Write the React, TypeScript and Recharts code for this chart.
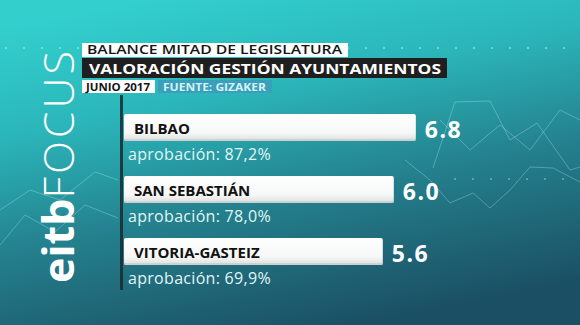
import React from "react";
import { BarChart, Bar, XAxis, YAxis } from "recharts";

const cities = ["BILBAO", "SAN SEBASTIÁN", "VITORIA-GASTEIZ"];
const scores = [6.8, 6.0, 5.6];
const approvals = [87.2, 78.0, 69.9];

const titleLine1 = "BALANCE MITAD DE LEGISLATURA";
const titleLine2 = "VALORACIÓN GESTIÓN AYUNTAMIENTOS";
const dateLabel = "JUNIO 2017";
const sourceLabel = "FUENTE: GIZAKER";

const SCALE_MIN = -3.8;
const SCALE_MAX = 12;

const data = cities.map((city, i) => ({
  city,
  score: scores[i],
  approval: approvals[i],
}));

const FONT = "'Open Sans', 'DejaVu Sans', sans-serif";

const BarShape = (props: any) => {
  const { x, y, width, height, payload } = props;
  const cy = y + height / 2;
  return (
    <g>
      <rect x={x} y={y} width={width} height={height} rx={2} fill="url(#barGrad)" />
      <rect x={x} y={y + height - 2} width={width} height={2} fill="#bfc6c6" opacity={0.6} />
      <text
        x={x + 10}
        y={cy}
        dominantBaseline="central"
        fontFamily={FONT}
        fontWeight={700}
        fontSize={15}
        fill="#111"
      >
        {payload.city}
      </text>
      <text
        x={x + width + 9}
        y={cy + 1}
        dominantBaseline="central"
        fontFamily={FONT}
        fontWeight={700}
        fontSize={23}
        letterSpacing={1.5}
        fill="#ffffff"
      >
        {payload.score.toFixed(1)}
      </text>
      <text
        x={x + 4}
        y={y + height + 13}
        dominantBaseline="central"
        fontFamily={FONT}
        fontWeight={400}
        fontSize={16}
        letterSpacing={0.3}
        fill="#e0f7f7"
      >
        {"aprobación: " + payload.approval.toFixed(1).replace(".", ",") + "%"}
      </text>
    </g>
  );
};

const deco = {
  lineA: "433,168 455,102 490,101 510,140 537,123 570,170 580,167",
  lineB: "405,160 430,180 450,203 473,193 490,208 510,190 530,167 553,168 580,182",
  lineC: "0,245 25,215 55,232 85,205 118,218",
  lineD: "440,120 470,150 500,125 530,150 560,110 580,120",
  lineE: "0,210 30,190 60,200 95,172 118,180",
};

export default function App() {
  const dotsTop = Array.from({ length: 33 }, (_, i) => 6 + i * 18);
  const dotsMid = Array.from({ length: 8 }, (_, i) => 455 + i * 18);
  return (
    <div style={{ position: "absolute", left: 0, top: 0, width: 580, height: 325, overflow: "hidden" }}>
      <svg width={580} height={325} style={{ position: "absolute", left: 0, top: 0 }}>
        <defs>
          <linearGradient id="bg" x1="0.25" y1="0" x2="0.6" y2="1">
            <stop offset="0" stopColor="#33cfcd" />
            <stop offset="0.3" stopColor="#2bb6ba" />
            <stop offset="0.62" stopColor="#24808d" />
            <stop offset="1" stopColor="#1b5064" />
          </linearGradient>
          <linearGradient id="barGrad" x1="0" y1="0" x2="0" y2="1">
            <stop offset="0" stopColor="#ffffff" />
            <stop offset="0.7" stopColor="#f6f7f7" />
            <stop offset="1" stopColor="#dcdede" />
          </linearGradient>
        </defs>
        <rect x={0} y={0} width={580} height={325} fill="url(#bg)" />
        {Object.values(deco).map((pts, i) => (
          <polyline key={i} points={pts} fill="none" stroke="#c6f5f5" strokeWidth={1} opacity={0.3} />
        ))}
        {dotsTop.map((dx) => (
          <circle key={"t" + dx} cx={dx} cy={48} r={1} fill="#9fe8e8" opacity={0.8} />
        ))}
        {dotsMid.map((dx) => (
          <circle key={"m" + dx} cx={dx} cy={179} r={0.9} fill="#9fe8e8" opacity={0.6} />
        ))}
        {/* logo */}
        <text
          transform="translate(74,283) rotate(-90)"
          fontFamily={FONT}
          fontSize={43}
          fill="#ffffff"
        >
          <tspan fontWeight={700}>eitb</tspan>
          <tspan fontWeight={300} letterSpacing={3}>FOCUS</tspan>
        </text>
        {/* titles */}
        <rect x={82} y={43} width={266} height={14} fill="#ffffff" />
        <text x={87} y={54} fontFamily={FONT} fontSize={12.5} fontWeight={600} fill="#151515" textLength={255} lengthAdjust="spacingAndGlyphs">
          {titleLine1}
        </text>
        <rect x={82} y={58} width={365} height={20} fill="#1f1f1f" />
        <text x={89} y={74} fontFamily={FONT} fontSize={15} fontWeight={700} fill="#ffffff" textLength={352} lengthAdjust="spacingAndGlyphs">
          {titleLine2}
        </text>
        <rect x={82} y={80} width={73} height={13} fill="#ffffff" />
        <text x={86} y={91} fontFamily={FONT} fontSize={10.5} fontWeight={700} fill="#151515" textLength={64} lengthAdjust="spacingAndGlyphs">
          {dateLabel}
        </text>
        <rect x={158} y={80} width={114} height={13} fill="#3a9fba" />
        <text x={163} y={91} fontFamily={FONT} fontSize={10.5} fontWeight={700} fill="#d7f1f6" textLength={103} lengthAdjust="spacingAndGlyphs">
          {sourceLabel}
        </text>
        <rect x={120} y={95} width={3} height={195} fill="#1a2a2e" opacity={0.85} />
      </svg>
      <div style={{ position: "absolute", left: 0, top: 0 }}>
        <BarChart
          width={580}
          height={325}
          data={data}
          layout="vertical"
          margin={{ top: 96, right: 21, bottom: 43, left: 124 }}
        >
          <XAxis type="number" domain={[SCALE_MIN, SCALE_MAX]} hide allowDataOverflow />
          <YAxis type="category" dataKey="city" hide />
          <Bar
            dataKey={(d: any) => [SCALE_MIN, d.score]}
            barSize={27}
            isAnimationActive={false}
            shape={BarShape}
          />
        </BarChart>
      </div>
    </div>
  );
}
